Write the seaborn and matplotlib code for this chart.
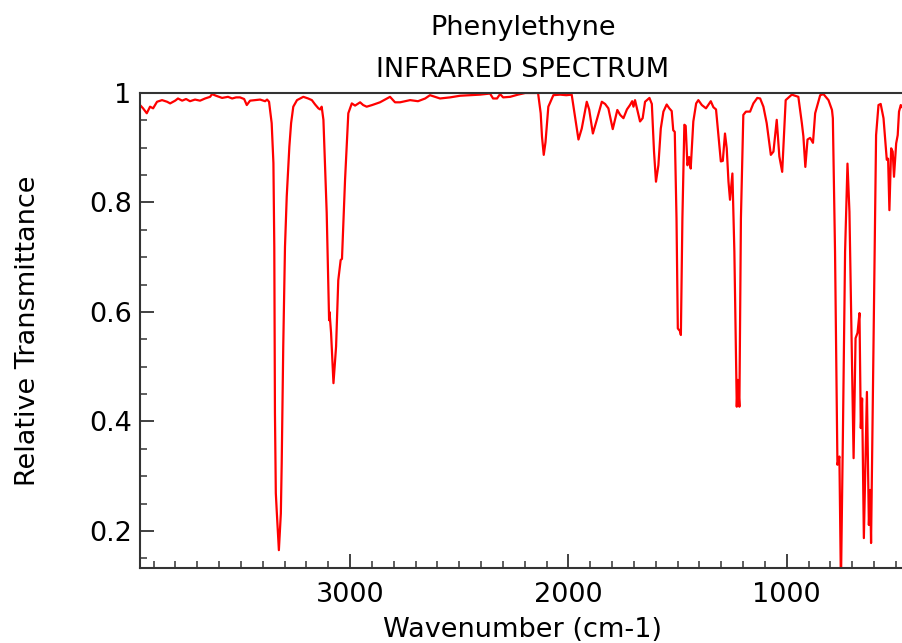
import matplotlib
matplotlib.use("Agg")
import matplotlib.pyplot as plt
import seaborn as sns
import pandas as pd
from matplotlib.ticker import MultipleLocator, FormatStrFormatter

# ---- data ----
wavenumber = [
    3962, 3948, 3931, 3916, 3902, 3884, 3861, 3838, 3824, 3801, 3788, 3769, 3751, 3733,
    3710, 3687, 3664, 3641, 3632, 3614, 3586, 3559, 3540, 3522, 3504, 3485, 3473, 3458,
    3435, 3412, 3389, 3380, 3371, 3359, 3351, 3347, 3344, 3340, 3336, 3326, 3317, 3313,
    3306, 3298, 3290, 3278, 3270, 3260, 3243, 3214, 3192, 3175, 3160, 3145, 3137, 3130,
    3122, 3115, 3107, 3096, 3094, 3087, 3076, 3064, 3054, 3043, 3037, 3023, 3008, 2992,
    2977, 2954, 2940, 2924, 2899, 2863, 2817, 2794, 2771, 2725, 2689, 2656, 2634, 2588,
    2542, 2496, 2450, 2405, 2359, 2345, 2327, 2313, 2299, 2267, 2231, 2198, 2139, 2127,
    2121, 2113, 2105, 2092, 2069, 2038, 2010, 1985, 1970, 1954, 1939, 1916, 1905, 1888,
    1870, 1847, 1832, 1817, 1797, 1776, 1763, 1748, 1732, 1718, 1708, 1702, 1695, 1672,
    1660, 1649, 1629, 1618, 1608, 1599, 1588, 1577, 1565, 1550, 1538, 1527, 1520, 1513,
    1505, 1499, 1489, 1485, 1478, 1469, 1463, 1455, 1447, 1440, 1428, 1415, 1405, 1389,
    1370, 1348, 1336, 1324, 1309, 1302, 1293, 1283, 1275, 1267, 1260, 1249, 1240, 1229,
    1224, 1217, 1210, 1199, 1187, 1168, 1153, 1135, 1122, 1107, 1092, 1073, 1061, 1046,
    1034, 1021, 1005, 977, 947, 931, 924, 915, 905, 893, 880, 870, 847, 832,
    809, 793, 789, 779, 768, 759, 752, 743, 733, 722, 713, 702, 694, 685,
    676, 667, 661, 655, 647, 633, 624, 618, 614, 603, 591, 580, 570, 557,
    542, 536, 530, 522, 515, 509, 499, 492, 486, 478, 472, 458,
]
transmittance = [
    0.978, 0.972, 0.963, 0.975, 0.972, 0.984, 0.987, 0.984, 0.981, 0.986, 0.990, 0.986, 0.989, 0.985,
    0.988, 0.986, 0.990, 0.993, 0.998, 0.995, 0.991, 0.993, 0.990, 0.992, 0.992, 0.989, 0.978, 0.986,
    0.987, 0.988, 0.985, 0.988, 0.984, 0.945, 0.872, 0.719, 0.415, 0.269, 0.238, 0.165, 0.232, 0.324,
    0.537, 0.719, 0.811, 0.902, 0.945, 0.975, 0.987, 0.993, 0.990, 0.987, 0.979, 0.972, 0.970, 0.975,
    0.951, 0.870, 0.781, 0.585, 0.600, 0.562, 0.470, 0.537, 0.658, 0.695, 0.697, 0.841, 0.963, 0.981,
    0.977, 0.983, 0.978, 0.975, 0.978, 0.983, 0.993, 0.983, 0.983, 0.987, 0.985, 0.990, 0.996, 0.990,
    0.992, 0.995, 0.996, 0.997, 0.999, 0.990, 0.990, 0.998, 0.992, 0.993, 0.997, 1.000, 1.000, 0.963,
    0.920, 0.887, 0.910, 0.975, 0.996, 0.997, 0.996, 0.997, 0.957, 0.915, 0.935, 0.984, 0.970, 0.926,
    0.951, 0.984, 0.980, 0.972, 0.934, 0.969, 0.960, 0.954, 0.970, 0.978, 0.985, 0.975, 0.987, 0.948,
    0.954, 0.984, 0.991, 0.980, 0.893, 0.838, 0.868, 0.935, 0.966, 0.979, 0.972, 0.967, 0.932, 0.929,
    0.771, 0.570, 0.565, 0.558, 0.771, 0.942, 0.940, 0.868, 0.883, 0.862, 0.948, 0.981, 0.987, 0.978,
    0.972, 0.985, 0.974, 0.970, 0.905, 0.875, 0.876, 0.926, 0.899, 0.838, 0.805, 0.853, 0.710, 0.427,
    0.476, 0.427, 0.771, 0.960, 0.966, 0.966, 0.981, 0.991, 0.990, 0.975, 0.945, 0.887, 0.893, 0.951,
    0.884, 0.856, 0.987, 0.997, 0.993, 0.945, 0.921, 0.865, 0.915, 0.918, 0.909, 0.963, 0.996, 0.998,
    0.987, 0.969, 0.954, 0.710, 0.321, 0.336, 0.100, 0.375, 0.710, 0.871, 0.783, 0.521, 0.333, 0.552,
    0.562, 0.598, 0.388, 0.442, 0.187, 0.454, 0.211, 0.275, 0.178, 0.527, 0.923, 0.978, 0.980, 0.954,
    0.878, 0.880, 0.786, 0.899, 0.893, 0.847, 0.908, 0.923, 0.966, 0.978, 0.974, 0.970,
]

title_line1 = "Phenylethyne"
title_line2 = "INFRARED SPECTRUM"
x_label = "Wavenumber (cm-1)"
y_label = "Relative Transmittance"

df = pd.DataFrame({"wn": wavenumber, "T": transmittance})

sns.set_style("ticks")
plt.rcParams["font.family"] = ["DejaVu Sans"]
plt.rcParams["text.color"] = "black"
plt.rcParams["axes.labelcolor"] = "black"

W, H = 903, 643
fig = plt.figure(figsize=(W / 100, H / 100), dpi=100)
ax = fig.add_axes([140 / W, (H - 568) / H, (906 - 140) / W, (568 - 93) / H])

sns.lineplot(data=df, x="wn", y="T", ax=ax, color="#ff0000", linewidth=1.6,
             estimator=None, sort=False)

ax.set_xlim(3962, 454)
ax.set_ylim(0.1324, 1.0)

ax.xaxis.set_major_locator(MultipleLocator(1000))
ax.xaxis.set_minor_locator(MultipleLocator(100))
ax.yaxis.set_major_locator(MultipleLocator(0.2))
ax.yaxis.set_minor_locator(MultipleLocator(0.05))
ax.yaxis.set_major_formatter(FormatStrFormatter("%g"))
ax.xaxis.set_major_formatter(FormatStrFormatter("%d"))

fs = 19.5
ax.tick_params(axis="both", which="major", direction="in", length=10, width=1.3,
               color="#333333", labelsize=fs, labelcolor="black")
ax.tick_params(axis="both", which="minor", direction="in", length=5, width=1.1,
               color="#333333")
ax.tick_params(axis="x", which="major", pad=10)
ax.tick_params(axis="y", which="major", pad=6)
ax.tick_params(top=False, right=False, which="both")

for side in ["left", "bottom", "top", "right"]:
    ax.spines[side].set_visible(True)
    ax.spines[side].set_linewidth(1.5)
    ax.spines[side].set_color("#333333")

ax.set_xlabel(x_label, fontsize=fs, color="black")
ax.set_ylabel(y_label, fontsize=fs, color="black")
ax.xaxis.set_label_coords(0.5, (568 - 617) / 475)
ax.yaxis.set_label_coords((41 - 140) / 766, 0.5)

cx = 523 / W
fig.text(cx, 1 - 35 / H, title_line1, ha="center", va="baseline", fontsize=fs, color="black")
fig.text(cx, 1 - 77 / H, title_line2, ha="center", va="baseline", fontsize=fs, color="black")

fig.savefig("out.png", dpi=100)
